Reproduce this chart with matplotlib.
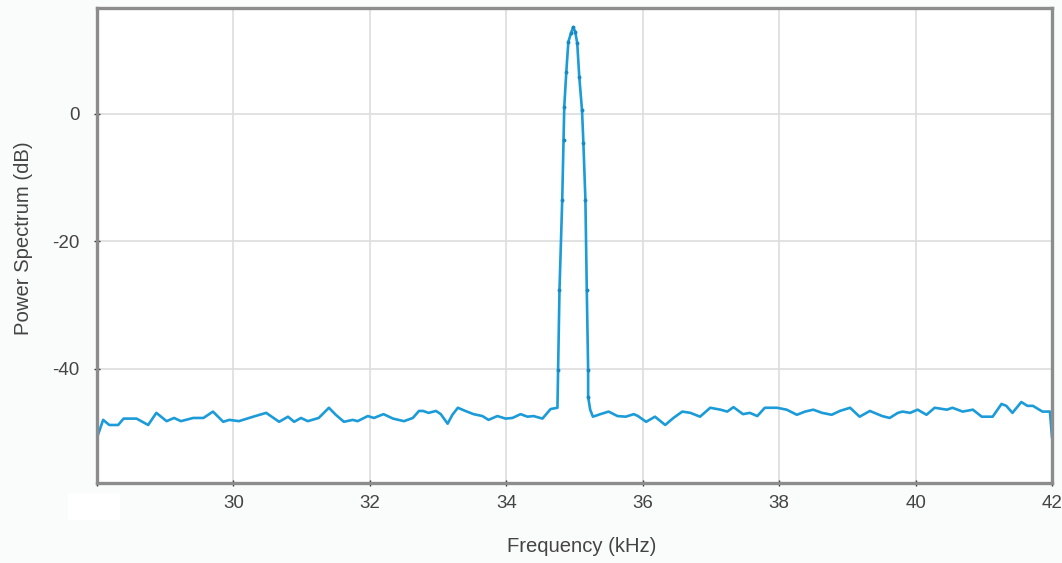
import matplotlib
matplotlib.use("Agg")
import matplotlib.pyplot as plt
from matplotlib.patches import Rectangle

# Frequency (kHz) and power spectrum (dB)
freq_khz = [
    28.00, 28.09, 28.18, 28.31, 28.39, 28.58, 28.75, 28.87, 29.02, 29.13,
    29.23, 29.41, 29.56, 29.70, 29.85, 29.94, 30.08, 30.29, 30.48, 30.67,
    30.80, 30.89, 30.99, 31.09, 31.25, 31.40, 31.50, 31.62, 31.75, 31.82,
    31.97, 32.06, 32.20, 32.34, 32.50, 32.63, 32.72, 32.78, 32.86, 32.97,
    33.04, 33.14, 33.21, 33.29, 33.40, 33.52, 33.65, 33.74, 33.87, 33.99,
    34.09, 34.21, 34.31, 34.40, 34.53, 34.65, 34.75,
    34.76, 34.78, 34.82, 34.84, 34.85, 34.88, 34.91, 34.95, 34.98, 35.01,
    35.04, 35.07, 35.11, 35.13, 35.16, 35.18, 35.20, 35.20, 35.23, 35.27,
    35.38, 35.50, 35.63, 35.75, 35.87, 35.93, 36.05, 36.18, 36.33, 36.45,
    36.58, 36.70, 36.84, 36.99, 37.14, 37.24, 37.33, 37.47, 37.57, 37.68,
    37.79, 37.97, 38.11, 38.26, 38.38, 38.50, 38.63, 38.77, 38.89, 39.04,
    39.18, 39.33, 39.51, 39.62, 39.74, 39.81, 39.92, 40.03, 40.16, 40.28,
    40.46, 40.54, 40.69, 40.84, 40.97, 41.13, 41.26, 41.33, 41.42, 41.55,
    41.64, 41.72, 41.86, 41.97, 42.00,
]
power_db = [
    -50.8, -48.0, -48.8, -48.8, -47.8, -47.8, -48.8, -46.9, -48.2, -47.7,
    -48.2, -47.7, -47.7, -46.7, -48.3, -48.0, -48.2, -47.5, -46.9, -48.3,
    -47.5, -48.3, -47.7, -48.2, -47.7, -46.1, -47.2, -48.3, -48.0, -48.2,
    -47.4, -47.7, -47.1, -47.8, -48.2, -47.7, -46.6, -46.6, -46.9, -46.6,
    -47.1, -48.6, -47.2, -46.1, -46.6, -47.1, -47.4, -48.0, -47.4, -47.8,
    -47.7, -47.1, -47.5, -47.4, -47.8, -46.3, -46.1,
    -40.2, -27.6, -13.5, -4.1, 1.1, 6.6, 11.3, 12.7, 13.6, 12.9,
    11.1, 5.8, 0.6, -4.5, -13.5, -27.6, -40.2, -44.4, -46.4, -47.5,
    -47.1, -46.7, -47.4, -47.5, -47.1, -47.4, -48.3, -47.5, -48.8, -47.7,
    -46.7, -46.9, -47.5, -46.1, -46.4, -46.7, -46.0, -47.1, -46.9, -47.4,
    -46.1, -46.1, -46.4, -47.2, -46.7, -46.4, -46.9, -47.2, -46.6, -46.1,
    -47.5, -46.6, -47.4, -47.7, -46.9, -46.7, -46.9, -46.4, -47.2, -46.1,
    -46.4, -46.1, -46.7, -46.4, -47.5, -47.5, -45.5, -45.8, -46.9, -45.2,
    -45.8, -45.8, -46.7, -46.7, -50.8,
]
x_ticks = [28, 30, 32, 34, 36, 38, 40, 42]
x_tick_labels = ["", "30", "32", "34", "36", "38", "40", "42"]
y_ticks = [-40, -20, 0]
y_tick_labels = ["-40", "-20", "0"]

plt.rcParams['font.family'] = ['Liberation Sans', 'DejaVu Sans']

W, H = 1062, 563
fig = plt.figure(figsize=(W / 100, H / 100), dpi=100, facecolor='#fafbfb')
ax = fig.add_axes([97 / W, 1 - 483 / H, (1052 - 97) / W, (483 - 8) / H])
ax.set_facecolor('white')

ax.plot(freq_khz, power_db, color='#1b9bd8', lw=1.9, solid_joinstyle='round',
        solid_capstyle='round', zorder=3, clip_on=True)
# darker dots on the steep peak samples
peak_idx = [i for i, v in enumerate(power_db) if v > -45]
ax.plot([freq_khz[i] for i in peak_idx], [power_db[i] for i in peak_idx],
        ls='none', marker='o', ms=1.8, color='#168ac4', zorder=4)

ax.set_xlim(28, 42)
ax.set_ylim(-57.9, 16.6)
ax.set_xticks(x_ticks)
ax.set_xticklabels(x_tick_labels)
ax.set_yticks(y_ticks)
ax.set_yticklabels(y_tick_labels)

ax.grid(True, color='#dddddd', lw=1.2, zorder=0)
ax.set_axisbelow(True)
for s in ax.spines.values():
    s.set_color('#8c8c8c')
    s.set_linewidth(2.4)
    s.set_zorder(5)

ax.tick_params(axis='both', direction='inout', length=5, width=1.0,
               color='#333333', labelcolor='#444444', labelsize=13.5)
ax.tick_params(axis='x', pad=6)
ax.tick_params(axis='y', pad=10)

ax.set_xlabel('Frequency (kHz)', fontsize=14.6, color='#444444')
ax.set_ylabel('Power Spectrum (dB)', fontsize=14.6, color='#444444')
ax.xaxis.set_label_coords((582 - 97) / 955, -(547 - 483) / 475, transform=ax.transAxes)
ax.yaxis.set_label_coords(-(97 - 24) / 955, (483 - 238) / 475, transform=ax.transAxes)
ax.xaxis.label.set_va('center')
ax.yaxis.label.set_va('center')

fig.patches.append(Rectangle((68 / W, 1 - 520 / H), 52 / W, 27 / H,
                             transform=fig.transFigure, facecolor='white',
                             edgecolor='none', zorder=10))

fig.savefig('out.png', dpi=100, facecolor=fig.get_facecolor())
